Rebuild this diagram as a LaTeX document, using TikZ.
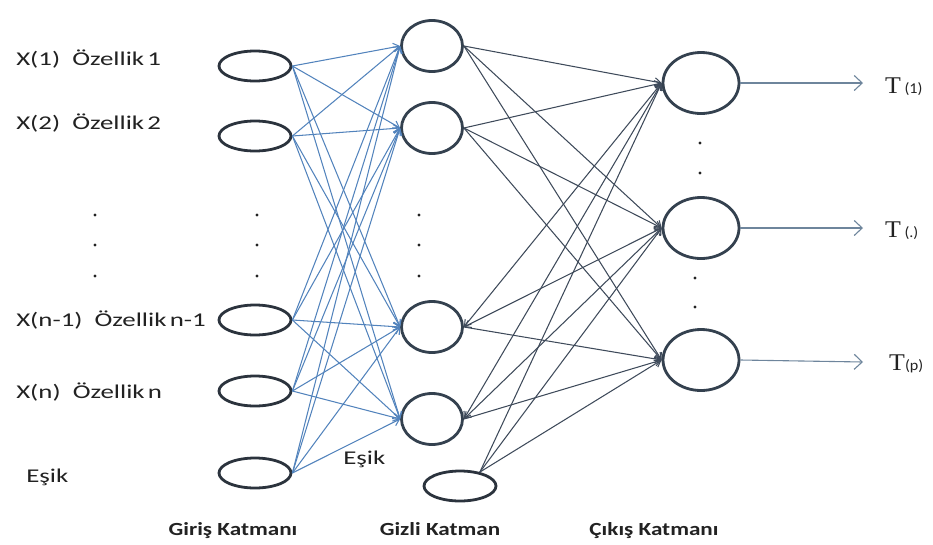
\documentclass[tikz,border=0pt]{standalone}
\usepackage{fontspec}
\setmainfont{Carlito}
\newfontfamily\serifT{Liberation Serif}
\usetikzlibrary{shapes.geometric,arrows.meta}

\definecolor{inc}{HTML}{2B333D}
\definecolor{unitc}{HTML}{34414F}
\definecolor{ihc}{HTML}{5283BC}
\definecolor{hoc}{HTML}{3E4A5A}
\definecolor{outc}{HTML}{6E859C}
\definecolor{txt}{HTML}{222222}

\begin{document}
\begin{tikzpicture}[x=1pt,y=-1pt,
  unit/.style={ellipse, draw=unitc, line width=2.8pt, inner sep=0pt},
  inunit/.style={unit, draw=inc, minimum width=72pt, minimum height=30pt},
  hidunit/.style={unit, minimum width=61pt, minimum height=51pt},
  outunit/.style={unit, minimum width=76pt, minimum height=61pt},
  lbl/.style={font=\fontsize{19.5}{21}\selectfont, text=txt, inner sep=0pt,
              xscale=1.38, anchor=base west},
  ttl/.style={font=\fontsize{18.5}{20}\selectfont\bfseries, text=txt,
              inner sep=0pt, xscale=1.25, anchor=base},
  ih/.style={draw=ihc, line width=1.05pt, -{Straight Barb[length=6pt,width=8pt]}},
  ho/.style={draw=hoc, line width=1.05pt, -{Straight Barb[length=6pt,width=8pt]}},
  hoboth/.style={draw=hoc, line width=1.05pt,
             {Straight Barb[length=6pt,width=8pt]}-{Straight Barb[length=6pt,width=8pt]}},
  outarrow/.style={draw=outc, line width=1.1pt,
             -{Straight Barb[length=8pt,width=15pt]}},
  dot/.style={fill=txt}
]
\useasboundingbox (0,0) rectangle (933,544);

% input layer
\node[inunit] (i1) at (255,66) {};
\node[inunit] (i2) at (255,136) {};
\node[inunit] (i3) at (255,320) {};
\node[inunit] (i4) at (255,391) {};
\node[inunit] (i5) at (255,473) {};

% hidden layer
\node[hidunit] (h1) at (432,46) {};
\node[hidunit] (h2) at (432,128) {};
\node[hidunit] (h3) at (432,327) {};
\node[hidunit] (h4) at (432,419) {};
\node[inunit]  (hb) at (460,486) {};

% output layer
\node[outunit] (o1) at (701,83) {};
\node[outunit] (o2) at (701,228) {};
\node[outunit] (o3) at (701,360) {};

% input labels
\node[lbl] (l1) at (16,65)  {X(1)\ \ Özellik\hspace{0.12em}1};
\node[lbl] (l2) at (16,129) {X(2)\ \ Özellik\hspace{0.12em}2};
\node[lbl] (l3) at (16,326) {X(n-1)\ \ Özellik\hspace{0.12em}n-1};
\node[lbl] (l4) at (16,398) {X(n)\ \ Özellik\hspace{0.12em}n};
\node[lbl] (l5) at (26,482) {Eşik};
\node[lbl] (l6) at (343,464) {Eşik};

% layer titles
\node[ttl] (t1) at (233,535) {Giriş Katmanı};
\node[ttl] (t2) at (440,535) {Gizli Katman};
\node[ttl] (t3) at (654,535) {Çıkış Katmanı};

% ellipsis dots
\foreach \x in {95,257,419}
  \foreach \y in {215,245,276}
    \fill[dot] (\x,\y) circle (1.6);
\fill[dot] (700,143) circle (1.6);
\fill[dot] (700,173) circle (1.6);
\fill[dot] (695,278) circle (1.6);
\fill[dot] (695,307) circle (1.6);

% input -> hidden
\foreach \i in {1,...,5}
  \foreach \j in {1,...,4}
    \draw[ih] (i\i.east) -- (h\j.west);

% hidden -> output
\foreach \i in {1,2}
  \foreach \k in {1,2,3}
    \draw[ho] (h\i.east) -- (o\k.west);
\foreach \i in {3,4} {
  \draw[hoboth] (h\i.east) -- (o1.west);
  \draw[hoboth] (h\i.east) -- (o2.west);
  \draw[ho] (h\i.east) -- (o3.west);
}
\foreach \k in {1,2,3}
  \draw[ho] (hb.35) -- (o\k.west);

% outputs
\coordinate (e1) at (863,83);
\coordinate (e2) at (863,228);
\coordinate (e3) at (863,362);
\draw[outarrow] (o1.east) -- (e1);
\draw[outarrow] (o2.east) -- (e2);
\draw[outarrow] (o3.east) -- (e3);

\node[lbl, xscale=0.78] (y1) at (885,93)
  {{\serifT\fontsize{24}{26}\selectfont T}\,{\fontsize{15}{17}\selectfont(1)}};
\node[lbl, xscale=0.78] (y2) at (885,237)
  {{\serifT\fontsize{24}{26}\selectfont T}\,{\fontsize{15}{17}\selectfont(.)}};
\node[lbl, xscale=0.78] (y3) at (889,370)
  {{\serifT\fontsize{24}{26}\selectfont T}{\fontsize{15}{17}\selectfont(p)}};
\end{tikzpicture}
\end{document}
